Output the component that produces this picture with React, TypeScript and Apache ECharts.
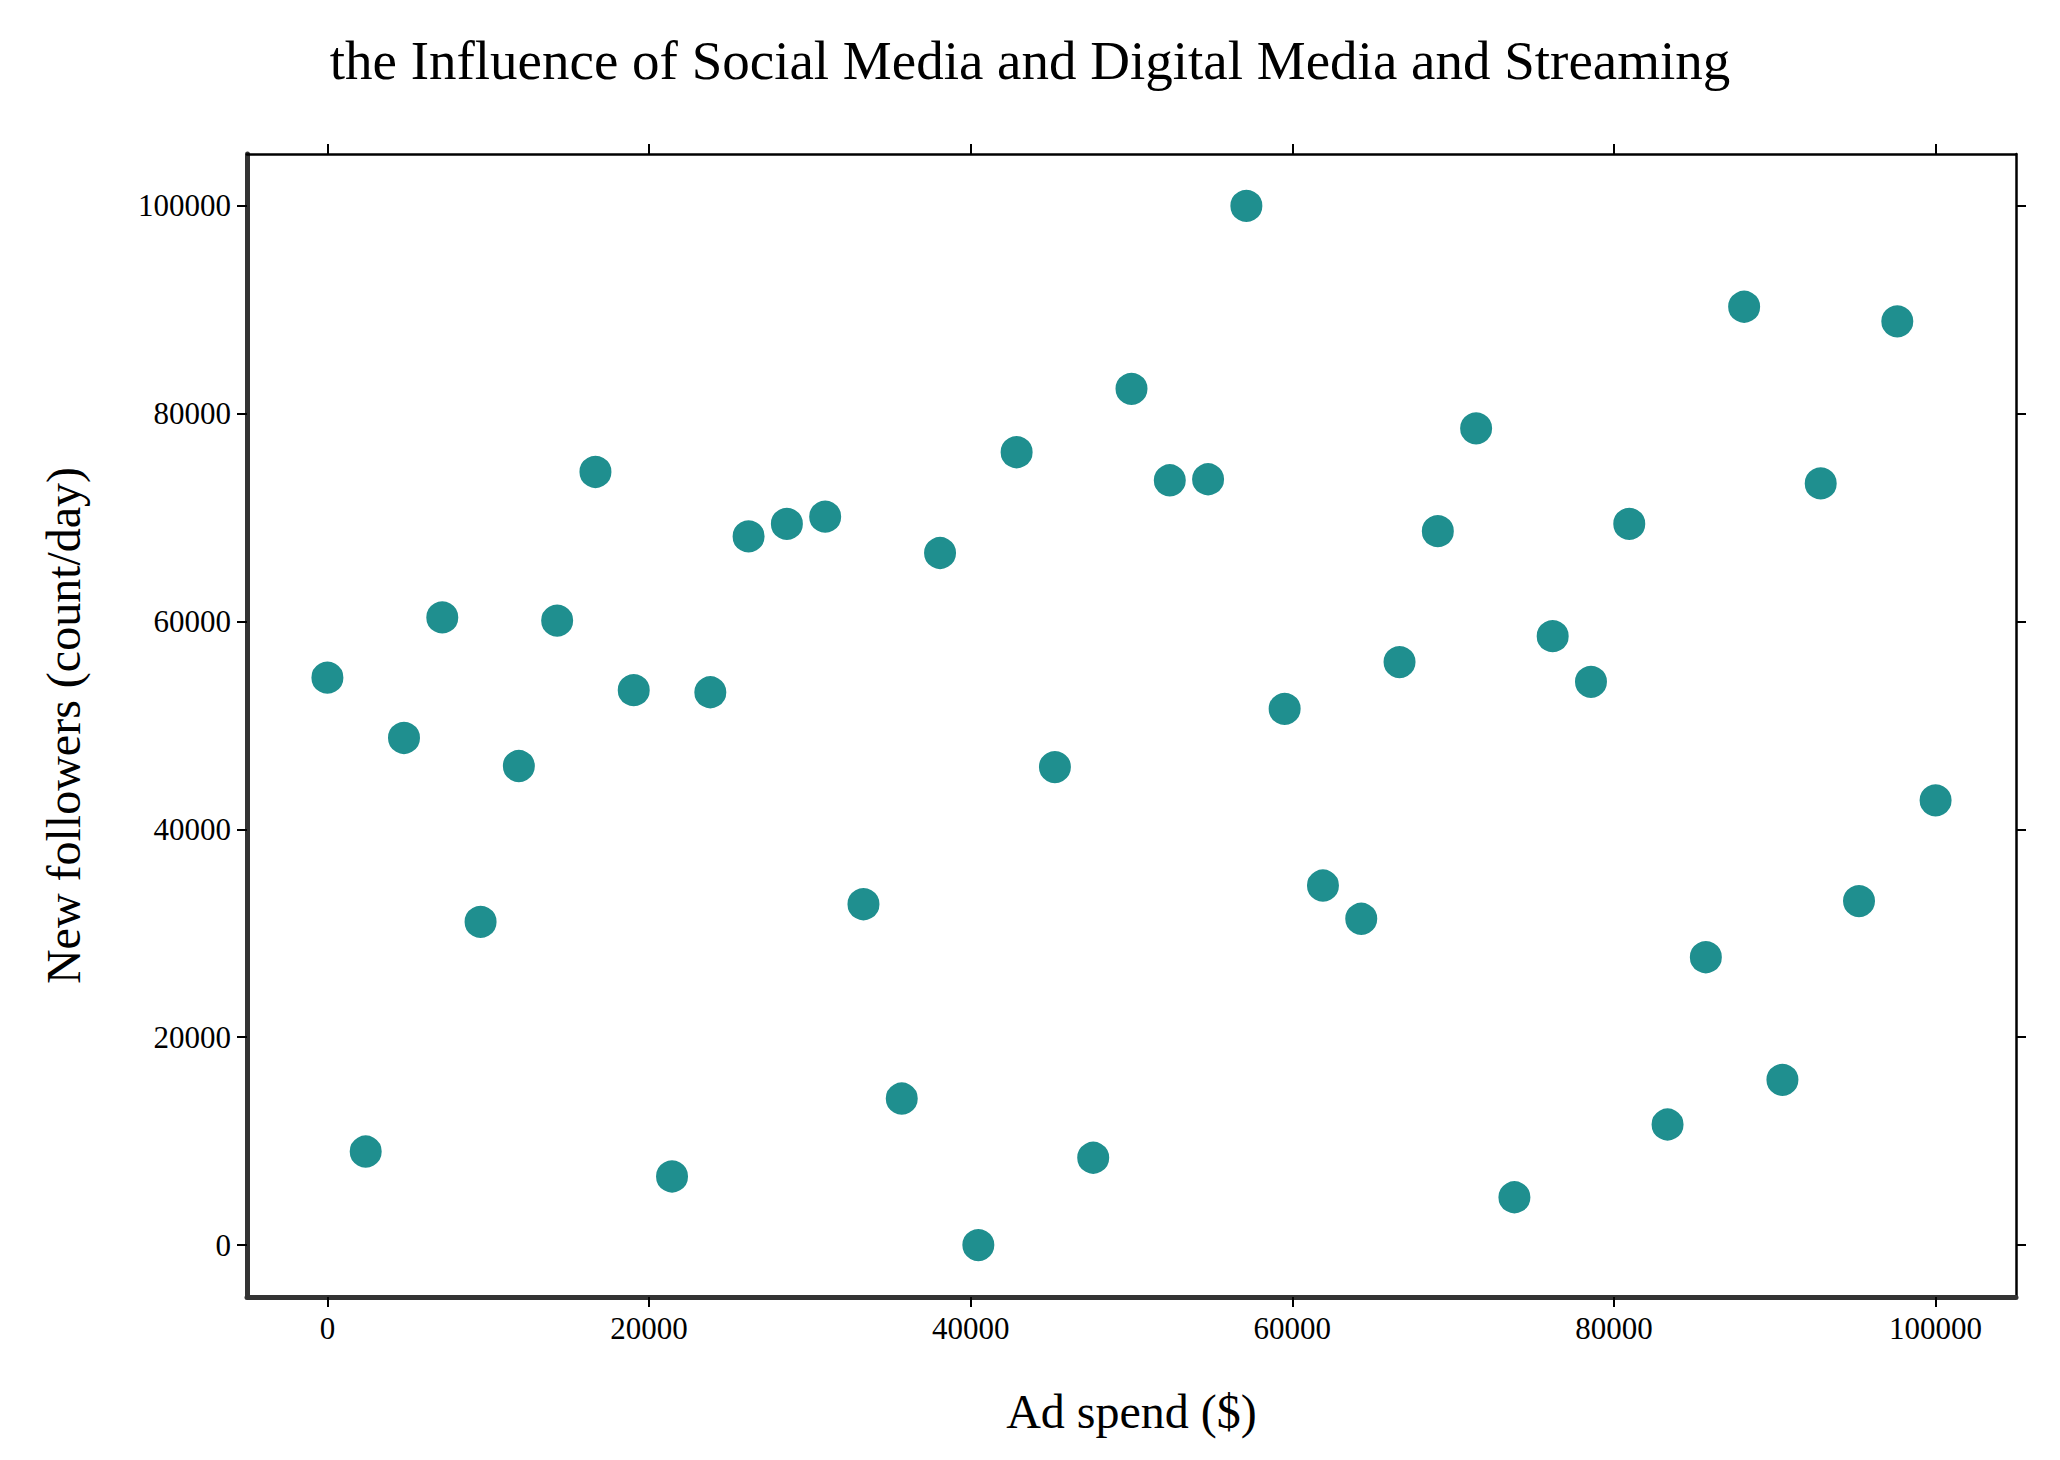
import React, { useEffect, useRef } from "react";
import * as echarts from "echarts";

const adSpend: number[] = Array.from({ length: 43 }, (_, i) => Math.round((i * 100000) / 42));
const followers: number[] = [
  54600, 9000, 48800, 60400, 31100, 46100, 60100, 74400, 53400, 6600, 53200, 68200, 69400, 70100,
  32800, 14100, 66600, 0, 76300, 46000, 8400, 82400, 73600, 73700, 100000, 51600, 34600, 31400,
  56100, 68700, 78600, 4600, 58600, 54200, 69400, 11600, 27700, 90300, 15900, 73300, 33100, 88900,
  42800,
];
const tickValues = [0, 20000, 40000, 60000, 80000, 100000];

const font = "'Liberation Serif', 'Times New Roman', serif";

const App: React.FC = () => {
  const chartRef = useRef<HTMLDivElement>(null);

  useEffect(() => {
    const chart = echarts.init(chartRef.current!, undefined, { renderer: "svg" });
    const axisBase = (thick: boolean, labels: boolean) => ({
      type: "value" as const,
      min: -5000,
      max: 105000,
      splitLine: { show: false },
      axisLine: { show: true, onZero: false, lineStyle: { color: thick ? "#333" : "#000", width: thick ? 5 : 2.5 } },
      axisTick: { show: true, inside: false, length: 10, customValues: tickValues, lineStyle: { color: "#000", width: 2 } },
      axisLabel: {
        show: labels,
        customValues: tickValues,
        formatter: (v: number) => String(v),
        color: "#000",
        fontFamily: font,
        fontSize: 31,
        margin: 16,
      },
    });
    const options = {
      animation: false,
      backgroundColor: "#fff",
      title: {
        text: "the Influence of Social Media and Digital Media and Streaming",
        left: "center",
        top: 20,
        textStyle: { fontFamily: font, fontSize: 55, fontWeight: "normal", color: "#000" },
      },
      grid: { left: 239, right: 36, top: 146, bottom: 155 },
      xAxis: [
        {
          ...axisBase(true, true),
          position: "bottom",
          name: "Ad spend ($)",
          nameLocation: "middle",
          nameGap: 90,
          nameTextStyle: { fontFamily: font, fontSize: 48, color: "#000" },
        },
        { ...axisBase(false, false), position: "top" },
      ],
      yAxis: [
        {
          ...axisBase(true, true),
          position: "left",
          name: "New followers (count/day)",
          nameLocation: "middle",
          nameGap: 160,
          nameTextStyle: { fontFamily: font, fontSize: 48, color: "#000" },
        },
        { ...axisBase(false, false), position: "right" },
      ],
      series: [
        {
          type: "scatter",
          symbolSize: 34,
          itemStyle: { color: "#1f8f8f", borderColor: "#fff", borderWidth: 2, opacity: 1 },
          data: adSpend.map((x, i) => [x, followers[i]]),
        },
      ],
    };
    chart.setOption(options);
    return () => {
      chart.dispose();
    };
  }, []);

  return <div ref={chartRef} style={{ width: 2044, height: 1444 }}></div>;
};

export default App;
